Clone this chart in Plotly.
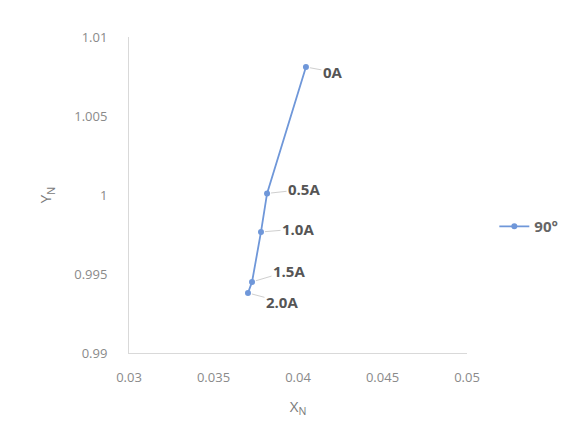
import plotly.graph_objects as go

x_vals = [0.04047, 0.03817, 0.03781, 0.03728, 0.03704]
y_vals = [1.0081, 1.0001, 0.99766, 0.9945, 0.9938]
point_labels = ["0A", "0.5A", "1.0A", "1.5A", "2.0A"]
series_name = "90°"
x_ticks = [0.03, 0.035, 0.04, 0.045, 0.05]
y_ticks = [0.99, 0.995, 1.0, 1.005, 1.01]
y_tick_text = ["0.99", "0.995", "1", "1.005", "1.01"]

label_offsets = [(27, 5), (37, -4), (37, -3), (37, -11), (34, 9)]

color = "#6f97d9"
fig = go.Figure()
fig.add_trace(go.Scatter(
    x=x_vals, y=y_vals, mode="lines+markers", name="<b>" + series_name + "</b>",
    line=dict(color=color, width=1.8),
    marker=dict(color=color, size=6),
))

for xv, yv, lab, (ox, oy) in zip(x_vals, y_vals, point_labels, label_offsets):
    fig.add_annotation(
        x=xv, y=yv, text="<b>" + lab + "</b>", showarrow=True,
        arrowhead=0, arrowwidth=1, arrowcolor="#cfcfcf",
        ax=ox, ay=oy, standoff=4, startstandoff=0,
        font=dict(family="Open Sans, Liberation Sans, sans-serif", size=15, color="#555555"),
    )

fig.update_layout(
    width=577, height=433,
    margin=dict(l=129, r=110, t=37, b=80),
    paper_bgcolor="white", plot_bgcolor="white",
    font=dict(family="Open Sans, Liberation Sans, sans-serif", color="#8a8a8a"),
    showlegend=True,
    legend=dict(x=1.285, y=0.40, yanchor="middle", xanchor="right",
                font=dict(size=15, color="#666666"), bgcolor="rgba(0,0,0,0)"),
    xaxis=dict(range=[0.03, 0.05], tickvals=x_ticks, ticktext=[str(t) for t in x_ticks],
               showgrid=False, zeroline=False, showline=True, linecolor="#d9d9d9", linewidth=1,
               ticks="", ticklabelstandoff=12, tickfont=dict(size=13, color="#8a8a8a"),
               title=dict(text="X<sub>N</sub>", font=dict(size=15, color="#7a7a7a"), standoff=16)),
    yaxis=dict(range=[0.99, 1.01], tickvals=y_ticks, ticktext=y_tick_text,
               showgrid=False, zeroline=False, showline=True, linecolor="#d9d9d9", linewidth=1,
               ticks="", ticklabelstandoff=18, tickfont=dict(size=13, color="#8a8a8a"),
               title=dict(text="Y<sub>N</sub>", font=dict(size=15, color="#7a7a7a"), standoff=18)),
)

fig.write_html("out.html")
